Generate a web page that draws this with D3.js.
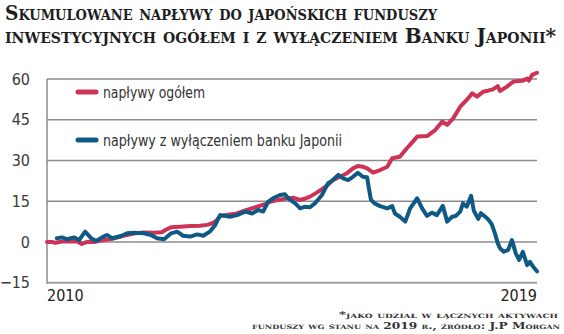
<!DOCTYPE html>
<html>
<head>
<meta charset="utf-8">
<script src="https://cdn.jsdelivr.net/npm/d3@7"></script>
<style>
  body { margin: 0; background: #fff; }
  svg { display: block; }
  .sans { font-family: "Liberation Sans Narrow", "DejaVu Sans Condensed", "Roboto", sans-serif; }
  .slab { font-family: "DejaVu Serif", serif; font-weight: bold; font-variant: small-caps; }
</style>
</head>
<body>
<svg id="chart" width="564" height="334"></svg>
<script>
// Cumulative inflows, % of total fund assets
const yearsTotal = [
  2010.00, 2010.09, 2010.15, 2010.28, 2010.42, 2010.55, 2010.64, 2010.75, 2010.86, 2011.01,
  2011.18, 2011.32, 2011.47, 2011.62, 2011.78, 2011.97, 2012.11, 2012.19, 2012.28, 2012.44,
  2012.63, 2012.81, 2012.94, 2013.05, 2013.12, 2013.18, 2013.32, 2013.49, 2013.67, 2013.86,
  2013.99, 2014.10, 2014.28, 2014.41, 2014.52, 2014.65, 2014.74, 2014.83, 2014.94, 2015.07,
  2015.16, 2015.25, 2015.38, 2015.51, 2015.62, 2015.71, 2015.80, 2015.88, 2015.99, 2016.12,
  2016.25, 2016.34, 2016.48, 2016.61, 2016.70, 2016.80, 2016.89, 2016.98, 2017.13, 2017.26,
  2017.35, 2017.46, 2017.59, 2017.71, 2017.81, 2017.90, 2018.01, 2018.10, 2018.19, 2018.28,
  2018.32, 2018.45, 2018.56, 2018.65, 2018.74, 2018.82, 2018.85, 2018.91, 2019.00
];
const valuesTotal = [
  0.0, 0.0, -0.3, 0.2, 0.3, 0.2, -0.7, 0.1, 0.0, 0.6,
  1.1, 1.8, 2.6, 3.2, 3.5, 3.4, 3.6, 4.6, 5.4, 5.6,
  5.9, 6.0, 6.3, 7.0, 8.1, 9.6, 10.0, 10.5, 11.8, 13.0,
  13.8, 14.8, 15.6, 16.1, 16.3, 15.5, 16.0, 16.7, 18.0, 19.7,
  21.0, 22.8, 24.0, 25.3, 27.1, 28.0, 27.7, 27.1, 25.5, 26.5,
  27.7, 30.8, 31.4, 34.5, 36.5, 38.8, 38.9, 39.0, 41.2, 44.3,
  43.1, 45.5, 49.8, 52.3, 54.7, 53.5, 55.3, 55.7, 56.2, 57.4,
  55.6, 57.2, 59.0, 59.3, 59.4, 60.2, 59.4, 61.5, 62.3
];

// Cumulative inflows excluding the Bank of Japan
const yearsExBoj = [
  2010.18, 2010.28, 2010.37, 2010.50, 2010.59, 2010.70, 2010.81, 2010.90, 2011.01, 2011.10,
  2011.19, 2011.36, 2011.47, 2011.60, 2011.78, 2011.91, 2012.02, 2012.15, 2012.28, 2012.39,
  2012.50, 2012.63, 2012.76, 2012.87, 2012.99, 2013.09, 2013.18, 2013.36, 2013.49, 2013.64,
  2013.77, 2013.88, 2013.97, 2014.06, 2014.15, 2014.28, 2014.37, 2014.43, 2014.56, 2014.65,
  2014.74, 2014.83, 2014.92, 2015.05, 2015.16, 2015.25, 2015.35, 2015.44, 2015.53, 2015.62,
  2015.71, 2015.80, 2015.88, 2015.91, 2015.95, 2016.02, 2016.12, 2016.25, 2016.34, 2016.39,
  2016.48, 2016.58, 2016.67, 2016.80, 2016.89, 2016.98, 2017.07, 2017.16, 2017.27, 2017.35,
  2017.44, 2017.51, 2017.59, 2017.64, 2017.71, 2017.79, 2017.84, 2017.92, 2017.97, 2018.05,
  2018.10, 2018.17, 2018.23, 2018.28, 2018.32, 2018.39, 2018.47, 2018.54, 2018.61, 2018.67,
  2018.74, 2018.82, 2018.87, 2018.93, 2019.00
];
const valuesExBoj = [
  1.4, 1.7, 1.0, 1.7, 0.7, 3.8, 1.4, 0.4, 1.7, 2.6,
  1.4, 2.2, 3.2, 3.4, 3.2, 2.6, 1.4, 1.0, 3.2, 3.8,
  2.3, 2.0, 2.8, 2.3, 3.8, 6.3, 9.9, 9.3, 9.9, 11.2,
  10.5, 11.8, 11.2, 14.8, 16.1, 17.3, 17.6, 16.1, 14.2, 12.4,
  13.0, 12.8, 14.2, 17.3, 21.6, 22.8, 24.7, 23.4, 22.8, 24.0,
  25.5, 24.0, 23.8, 20.0, 15.5, 14.2, 13.2, 12.4, 13.2, 10.5,
  9.3, 7.5, 12.4, 16.1, 12.4, 9.6, 10.8, 9.9, 13.3, 7.5,
  9.3, 9.6, 11.2, 14.2, 13.0, 17.0, 11.5, 8.5, 10.6, 9.3,
  8.4, 6.5, 3.0, -0.5, -2.3, -3.6, -2.9, 0.7, -4.2, -6.6,
  -3.6, -8.5, -7.3, -9.1, -10.8
];

const yTicks = [-15, 0, 15, 30, 45, 60];
const xTicks = [2010, 2019];
const seriesNames = ["napływy ogółem", "napływy z wyłączeniem banku Japonii"];
const titleLines = [
  "Skumulowane napływy do japońskich funduszy",
  "inwestycyjnych ogółem i z wyłączeniem Banku Japonii*"
];
const noteLines = [
  "*jako udział w łącznych aktywach",
  "funduszy wg stanu na 2019 r., źródło: J.P Morgan"
];

const RED = "#cc3356";
const BLUE = "#0e5a85";
const GRID = "#8c8c8c";

const svg = d3.select("#chart");
const plot = { left: 47, right: 537, top: 79, bottom: 282.75 };

const x = d3.scaleLinear().domain([2010, 2019]).range([plot.left, plot.right]);
const y = d3.scaleLinear().domain([-15, 60]).range([plot.bottom, plot.top]);

// Title
svg.selectAll("text.title")
  .data(titleLines)
  .join("text")
  .attr("class", "title slab")
  .attr("x", 5)
  .attr("y", (d, i) => 20 + i * 23)
  .attr("font-size", 20)
  .attr("fill", "#1e1e1e")
  .attr("textLength", (d, i) => i === 0 ? 432 : 551)
  .attr("lengthAdjust", "spacingAndGlyphs")
  .text(d => d);

// Horizontal gridlines
svg.append("g")
  .selectAll("line")
  .data(yTicks.filter(t => t > -15))
  .join("line")
  .attr("x1", plot.left)
  .attr("x2", plot.right)
  .attr("y1", d => y(d))
  .attr("y2", d => y(d))
  .attr("stroke", GRID)
  .attr("stroke-width", 1.3);

// Baseline at the bottom of the value range
svg.append("line")
  .attr("x1", plot.left).attr("x2", plot.right)
  .attr("y1", y(-15)).attr("y2", y(-15))
  .attr("stroke", "#a0a0a0")
  .attr("stroke-width", 2.2);

// Left axis line
svg.append("line")
  .attr("x1", plot.left).attr("x2", plot.left)
  .attr("y1", y(60)).attr("y2", y(-15) + 1)
  .attr("stroke", GRID)
  .attr("stroke-width", 1.5);

// Y tick labels
const yAxis = d3.axisLeft(y).tickValues(yTicks).tickSize(0).tickPadding(17);
const gy = svg.append("g").attr("transform", `translate(${plot.left},0)`).call(yAxis);
gy.select(".domain").remove();
gy.selectAll("text")
  .attr("class", "sans")
  .attr("font-size", 16)
  .attr("fill", "#3a3a3a");

// X tick labels: first left-aligned, last right-aligned
svg.selectAll("text.xtick")
  .data(xTicks)
  .join("text")
  .attr("class", "xtick sans")
  .attr("x", d => x(d))
  .attr("y", 301)
  .attr("text-anchor", (d, i) => i === 0 ? "start" : "end")
  .attr("font-size", 16)
  .attr("fill", "#222")
  .text(d => d);

// Series lines
const line = d3.line()
  .x(d => x(d[0]))
  .y(d => y(d[1]));

const totalData = d3.zip(yearsTotal, valuesTotal);
const exBojData = d3.zip(yearsExBoj, valuesExBoj);

svg.append("path")
  .datum(totalData)
  .attr("d", line)
  .attr("fill", "none")
  .attr("stroke", RED)
  .attr("stroke-width", 4)
  .attr("stroke-linejoin", "round")
  .attr("stroke-linecap", "round");

svg.append("path")
  .datum(exBojData)
  .attr("d", line)
  .attr("fill", "none")
  .attr("stroke", BLUE)
  .attr("stroke-width", 4)
  .attr("stroke-linejoin", "round")
  .attr("stroke-linecap", "round");

// Legend
const legend = svg.append("g")
  .selectAll("g")
  .data(seriesNames.map((name, i) => ({ name, color: i === 0 ? RED : BLUE, i })))
  .join("g")
  .attr("transform", d => `translate(0,${92 + d.i * 48})`);

legend.append("line")
  .attr("x1", 78).attr("x2", 96)
  .attr("y1", 0).attr("y2", 0)
  .attr("stroke", d => d.color)
  .attr("stroke-width", 5)
  .attr("stroke-linecap", "round");

legend.append("text")
  .attr("class", "sans")
  .attr("x", 103)
  .attr("y", 5.5)
  .attr("font-size", 16)
  .attr("fill", "#333")
  .attr("textLength", d => d.i === 0 ? 102 : 239)
  .attr("lengthAdjust", "spacingAndGlyphs")
  .text(d => d.name);

// Footnote
svg.selectAll("text.note")
  .data(noteLines)
  .join("text")
  .attr("class", "note slab")
  .attr("x", (d, i) => i === 0 ? 339 : 252)
  .attr("y", (d, i) => 318 + i * 10.5)
  .attr("font-size", 9)
  .attr("fill", "#333")
  .attr("textLength", (d, i) => i === 0 ? 219 : 308)
  .attr("lengthAdjust", "spacingAndGlyphs")
  .text(d => d);
</script>
</body>
</html>
